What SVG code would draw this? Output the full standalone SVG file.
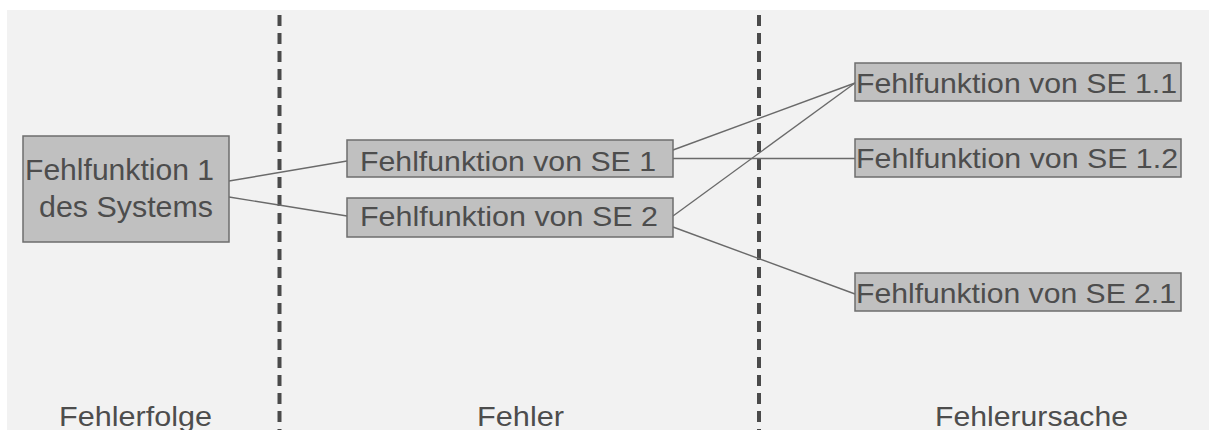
<svg xmlns="http://www.w3.org/2000/svg" width="1209" height="430" viewBox="0 0 1209 430">
  <style>
    .bg { fill: #f2f2f2; }
    .divider { stroke: #4a4a4a; stroke-width: 4; stroke-dasharray: 11 7; fill: none; }
    .node rect { fill: #c0c0c0; stroke: #6e6e6e; stroke-width: 1.5; }
    .node text, .label { font-family: "Liberation Sans", Arial, sans-serif; fill: #4d4d4d; }
    .node text { font-size: 28px; }
    .node.big text { font-size: 29px; }
    .label { font-size: 28px; text-anchor: middle; }
    .connectors line { stroke: #6a6a6a; stroke-width: 1.4; }
  </style>

  <!-- canvas -->
  <rect class="bg" x="7" y="10" width="1202" height="420"/>

  <!-- column dividers -->
  <line class="divider" x1="279.5" y1="15" x2="279.5" y2="430"/>
  <line class="divider" x1="759" y1="15" x2="759" y2="430"/>

  <!-- connectors -->
  <g id="connectors" class="connectors">
    <line x1="229" y1="181" x2="347" y2="161"/>
    <line x1="229" y1="197" x2="347" y2="216"/>
    <line x1="673" y1="150" x2="855" y2="83"/>
    <line x1="673" y1="158.5" x2="855" y2="158.5"/>
    <line x1="673" y1="216" x2="855" y2="83"/>
    <line x1="673" y1="227" x2="855" y2="294"/>
  </g>

  <!-- effect -->
  <g id="node-system" class="node big">
    <rect x="23" y="136" width="206" height="106"/>
    <text x="25" y="180" textLength="189" lengthAdjust="spacingAndGlyphs">Fehlfunktion 1</text>
    <text x="39" y="217" textLength="174" lengthAdjust="spacingAndGlyphs">des Systems</text>
  </g>

  <!-- failures -->
  <g id="node-se1" class="node">
    <rect x="347" y="140" width="326" height="37"/>
    <text x="360" y="170.5" textLength="296" lengthAdjust="spacingAndGlyphs">Fehlfunktion von SE 1</text>
  </g>
  <g id="node-se2" class="node">
    <rect x="347" y="198" width="326" height="39"/>
    <text x="360" y="226" textLength="298" lengthAdjust="spacingAndGlyphs">Fehlfunktion von SE 2</text>
  </g>

  <!-- causes -->
  <g id="node-se11" class="node">
    <rect x="855" y="63" width="326" height="38"/>
    <text x="856" y="92.5" textLength="321" lengthAdjust="spacingAndGlyphs">Fehlfunktion von SE 1.1</text>
  </g>
  <g id="node-se12" class="node">
    <rect x="855" y="139" width="326" height="38"/>
    <text x="856" y="167.5" textLength="322" lengthAdjust="spacingAndGlyphs">Fehlfunktion von SE 1.2</text>
  </g>
  <g id="node-se21" class="node">
    <rect x="855" y="273" width="326" height="38"/>
    <text x="856" y="303" textLength="320" lengthAdjust="spacingAndGlyphs">Fehlfunktion von SE 2.1</text>
  </g>

  <!-- column captions -->
  <text class="label" x="135.5" y="425.5" textLength="153" lengthAdjust="spacingAndGlyphs">Fehlerfolge</text>
  <text class="label" x="520.5" y="425.5" textLength="87" lengthAdjust="spacingAndGlyphs">Fehler</text>
  <text class="label" x="1031.5" y="425.5" textLength="193" lengthAdjust="spacingAndGlyphs">Fehlerursache</text>
</svg>
